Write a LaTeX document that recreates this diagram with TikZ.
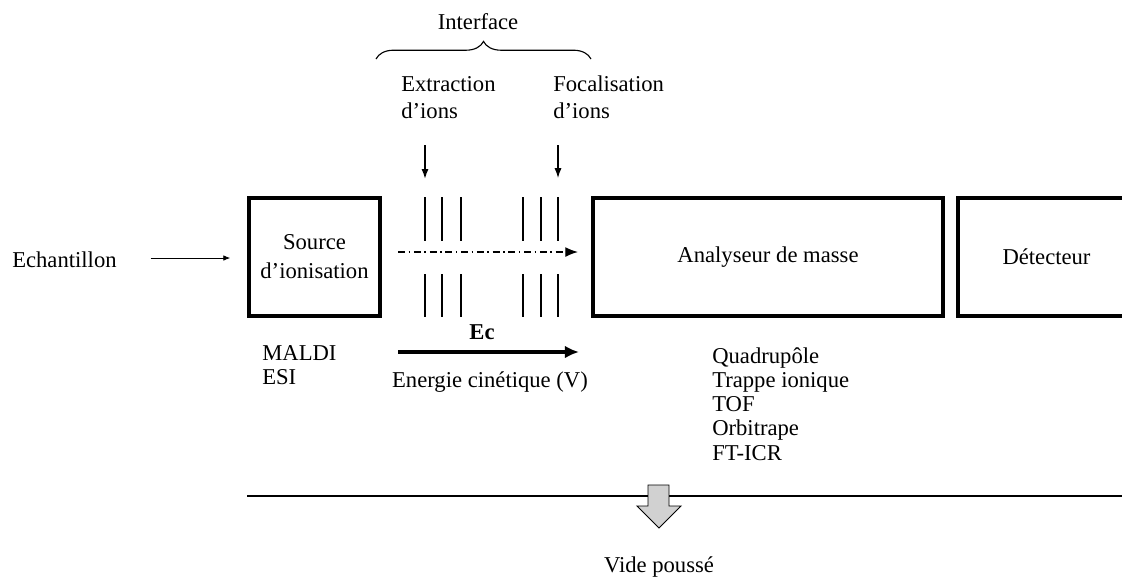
\documentclass[tikz,border=0pt]{standalone}
\usepackage{fontspec}
\setmainfont{Liberation Serif}
\usetikzlibrary{arrows.meta,decorations.pathreplacing,positioning}
\begin{document}
\begin{tikzpicture}[x=0.025cm,y=-0.025cm,
  every node/.style={font=\fontsize{16.1}{19.5}\selectfont,inner sep=0pt},
  bloc/.style={draw,line width=2.6pt,minimum height=2.95cm,align=center},
  fleche/.style={-{Latex[length=5pt,width=4pt]},line width=0.6pt},
  liste/.style={anchor=base west,align=left,font=\fontsize{16.1}{17.1}\selectfont}]
\useasboundingbox (0,0) rectangle (1122,581);
% boites
\node[bloc,minimum width=3.275cm] (source) at (314.5,257) {Source\\[1pt]d’ionisation};
\node[bloc,minimum width=8.75cm] (analyseur) at (768,257) {Analyseur de masse};
\node[bloc,minimum width=4.425cm] (detecteur) at (1046.5,257) {Détecteur};
\node[anchor=base west] (echant) at (12,267) {Echantillon};
\draw[fleche] ([xshift=24pt]echant.east|-0,258) -- ([xshift=-12pt]source.west|-0,258);
% electrodes
\foreach \x/\w in {425/1.4pt,442/0.8pt,461/1.2pt,523/1.2pt,541/1.5pt,558/1pt}
  \draw[line width=\w] (\x,197) -- (\x,241) (\x,274) -- (\x,317);
\coordinate (b0) at (398,252);
\coordinate (b1) at (578,252);
\draw[-{Latex[length=9pt,width=7pt]},line width=0.9pt,dash pattern=on 5pt off 2.5pt on 1.2pt off 2.5pt] (b0) -- (b1);
% energie cinetique
\coordinate (ec0) at (398,352);
\coordinate (ec1) at (579,352);
\draw[-{Latex[length=10pt,width=9pt]},line width=2.8pt] (ec0) -- (ec1);
\node[anchor=base,font=\fontsize{16.1}{19.5}\selectfont\bfseries] (ec) at (482,339) {Ec};
\node[anchor=base] (energie) at (490,387) {Energie cinétique (V)};
% interface
\node[anchor=base] (iface) at (478,29) {Interface};
\draw[decorate,decoration={brace,amplitude=12.5pt},line width=0.8pt] (376,59) -- (591,59);
\node[anchor=base west,align=left,font=\fontsize{16.1}{19.2}\selectfont] (extr) at (401,118) {Extraction\\d’ions};
\node[anchor=base west,align=left,font=\fontsize{16.1}{19.2}\selectfont] (focal) at (553,118) {Focalisation\\d’ions};
\coordinate (x0) at (425,145);
\coordinate (x1) at (425,179);
\coordinate (f0) at (558,145);
\coordinate (f1) at (558,178);
\draw[-{Latex[length=7pt,width=5pt]},line width=1.2pt] (x0) -- (x1);
\draw[-{Latex[length=7pt,width=5pt]},line width=0.8pt] (f0) -- (f1);
% listes
\node[liste,font=\fontsize{16.1}{16.4}\selectfont] (sources) at (262,384) {MALDI\\ESI};
\node[liste] (analyseurs) at (712,460) {Quadrupôle\\Trappe ionique\\TOF\\Orbitrape\\FT-ICR};
% vide
\coordinate (v0) at (247,496);
\coordinate (v1) at (1122,496);
\draw[line width=1.6pt] (v0) -- (v1);
\draw[fill=black!18,line width=0.6pt] (648,485) -- (669,485) -- (669,506) -- (681,506) -- (659,528) -- (637,506) -- (648,506) -- cycle;
\node[anchor=base] (vide) at (659,572) {Vide poussé};
\end{tikzpicture}
\end{document}
